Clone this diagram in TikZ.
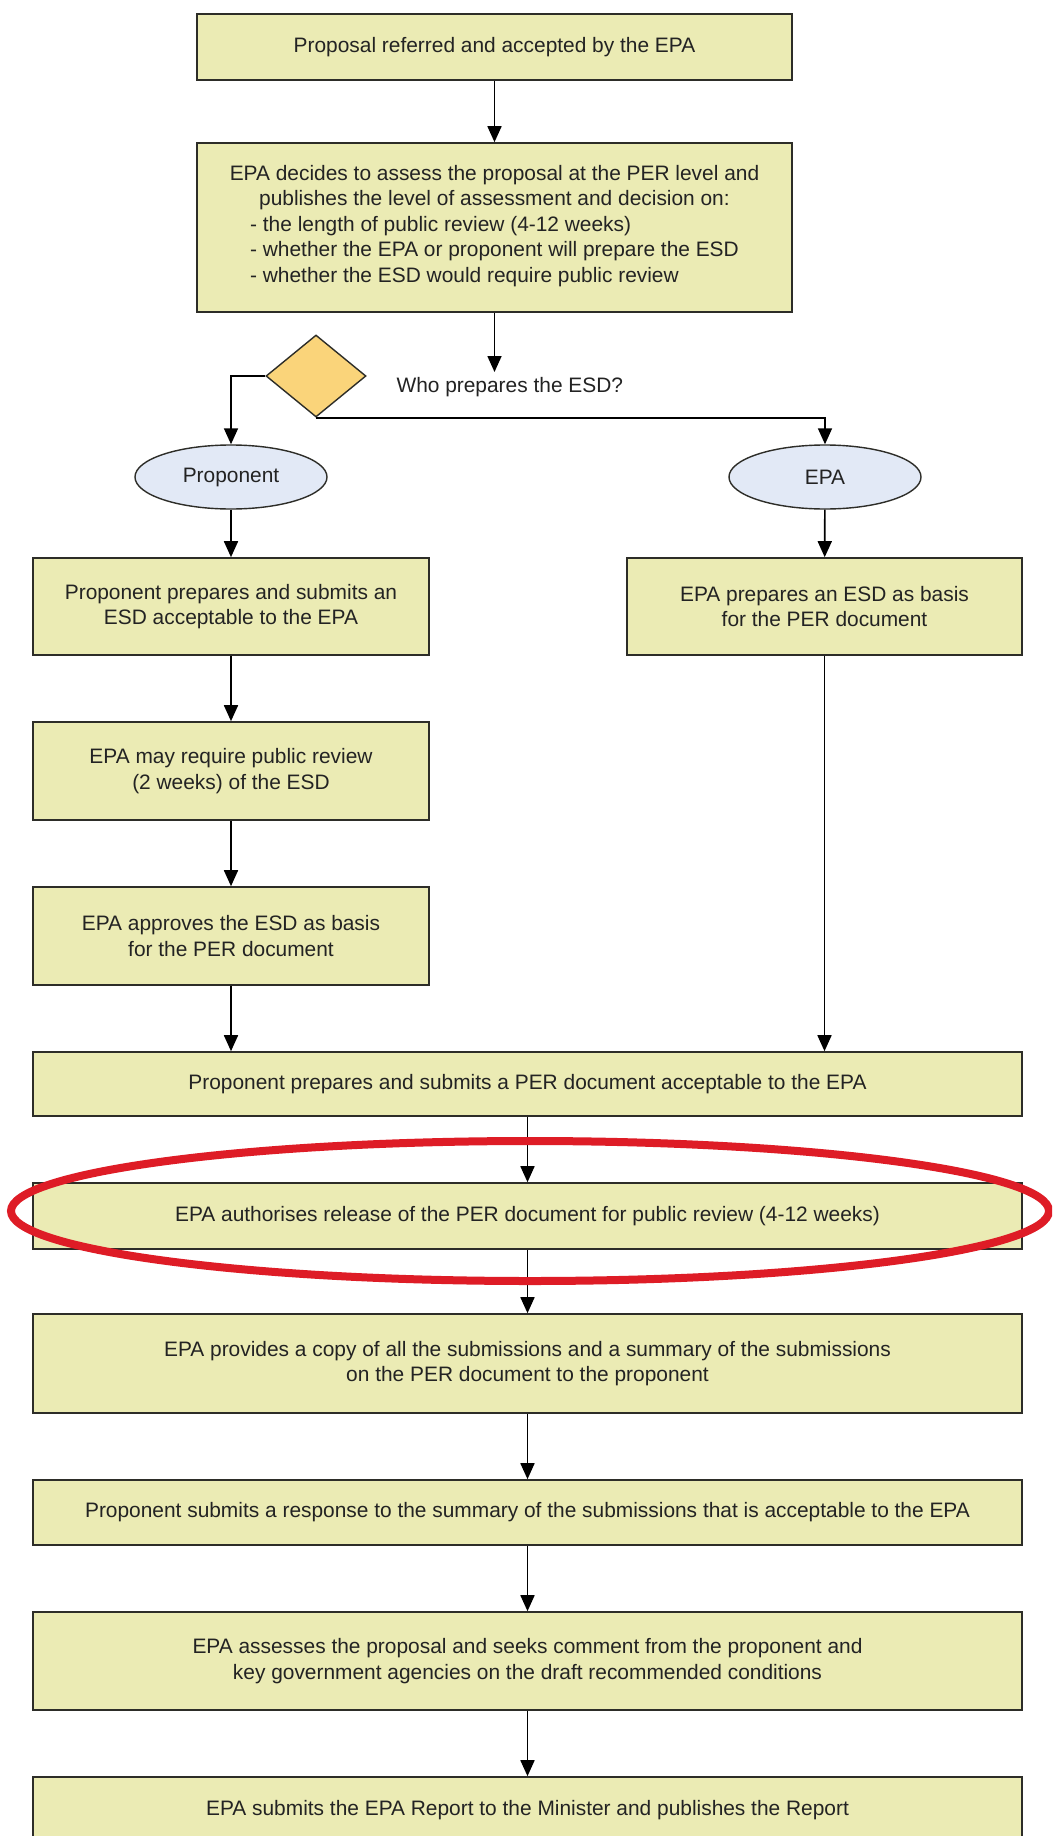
\documentclass[tikz,border=0pt]{standalone}
\usepackage{fontspec}
\setmainfont{Liberation Sans}
\usetikzlibrary{arrows.meta,shapes.geometric}
\definecolor{boxfill}{RGB}{235,235,180}
\definecolor{ellfill}{RGB}{226,233,246}
\definecolor{diafill}{RGB}{250,212,122}
\definecolor{edge}{RGB}{45,45,40}
\definecolor{hlred}{RGB}{222,28,38}
\definecolor{txt}{RGB}{35,35,35}
\begin{document}
\begin{tikzpicture}[x=1pt,y=-1pt,
  every node/.style={font=\fontsize{20.9}{25.5}\selectfont, text=txt},
  procbox/.style={draw=edge, line width=1.6pt, fill=boxfill, rectangle, inner sep=0pt, align=center},
  choice/.style={draw=edge, line width=1.4pt, fill=ellfill, ellipse, inner sep=0pt, minimum width=192pt, minimum height=64pt},
  decision/.style={draw=edge, line width=1.4pt, fill=diafill, diamond, inner sep=0pt, minimum width=100pt, minimum height=82pt},
  flow/.style={draw=black, line width=1.7pt, -{Triangle[length=16pt,width=14pt]}},
  highlight/.style={draw=hlred, line width=8pt, ellipse, inner sep=0pt, minimum width=1038pt, minimum height=140pt}
]
\useasboundingbox (0,0) rectangle (1052,1836);
\clip (0,0) rectangle (1052,1836);
\fill[white] (0,0) rectangle (1052,1836);

\node[procbox, minimum width=595pt, minimum height=66pt] (b1) at (494.5,47) {Proposal referred and accepted by the EPA};
\node[procbox, minimum width=595pt, minimum height=169pt] (b2) at (494.5,227.5) {EPA decides to assess the proposal at the PER level and\\publishes the level of assessment and decision on:\\
\begin{tabular}[t]{@{}l@{}}- the length of public review (4-12 weeks)\\- whether the EPA or proponent will prepare the ESD\\- whether the ESD would require public review\end{tabular}};
\coordinate (q) at (494.5,372);
\node[decision] (dia) at (316,376) {};
\node[anchor=west] (who) at (393,387) {Who prepares the ESD?};
\node[choice] (prop) at (231,477) {Proponent};
\node[choice] (epa) at (825,477) {EPA};

\node[procbox, minimum width=396pt, minimum height=97pt] (p1) at (231,606.5) {Proponent prepares and submits an\\ESD acceptable to the EPA};
\node[procbox, minimum width=395pt, minimum height=97pt] (e1) at (824.5,606.5) {EPA prepares an ESD as basis\\for the PER document};
\node[procbox, minimum width=396pt, minimum height=98pt] (p2) at (231,771) {EPA may require public review\\(2 weeks) of the ESD};
\node[procbox, minimum width=396pt, minimum height=98pt] (p3) at (231,936) {EPA approves the ESD as basis\\for the PER document};

\node[procbox, minimum width=989pt, minimum height=64pt] (per) at (527.5,1084) {Proponent prepares and submits a PER document acceptable to the EPA};
\node[procbox, minimum width=989pt, minimum height=66pt] (auth) at (527.5,1216) {EPA authorises release of the PER document for public review (4-12 weeks)};
\node[procbox, minimum width=989pt, minimum height=99pt] (copy) at (527.5,1363.5) {EPA provides a copy of all the submissions and a summary of the submissions\\on the PER document to the proponent};
\node[procbox, minimum width=989pt, minimum height=65pt] (resp) at (527.5,1512.5) {Proponent submits a response to the summary of the submissions that is acceptable to the EPA};
\node[procbox, minimum width=989pt, minimum height=98pt] (assess) at (527.5,1661) {EPA assesses the proposal and seeks comment from the proponent and\\key government agencies on the draft recommended conditions};
\node[procbox, minimum width=989pt, minimum height=66pt] (final) at (527.5,1810) {EPA submits the EPA Report to the Minister and publishes the Report};

\draw[flow] (b1) -- (b2);
\draw[flow] (b2.south) -- (q);
\draw[flow] (dia.west) -| (prop.north);
\draw[flow] (dia.south) -| (epa.north);
\draw[flow] (prop) -- (p1);
\draw[flow] (epa) -- (e1);
\draw[flow] (p1) -- (p2);
\draw[flow] (p2) -- (p3);
\draw[flow] (p3.south) -- (p3.south |- per.north);
\draw[flow] (e1.south) -- (e1.south |- per.north);
\draw[flow] (per) -- (auth);
\draw[flow] (auth) -- (copy);
\draw[flow] (copy) -- (resp);
\draw[flow] (resp) -- (assess);
\draw[flow] (assess) -- (final);

\node[highlight] (hl) at (530,1211) {};
\end{tikzpicture}
\end{document}
